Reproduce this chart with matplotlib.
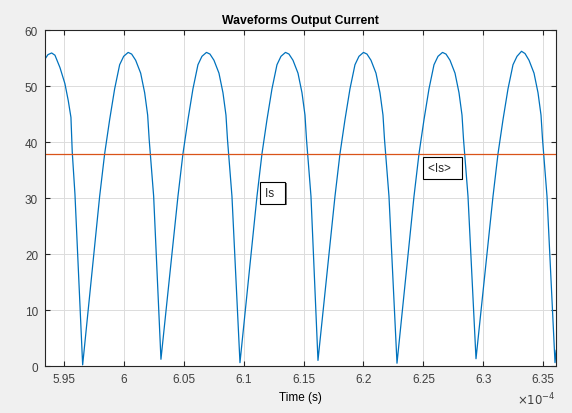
import matplotlib

matplotlib.use("Agg")
import matplotlib.pyplot as plt
import matplotlib.patheffects as pe
from matplotlib.ticker import FixedLocator, FixedFormatter

# time in units of 1e-4 s, current in A
time_e4 = [
    5.93414, 5.93664, 5.93973, 5.94249, 5.94666, 5.95083, 5.95359, 5.95584, 5.95693, 5.95918,
    5.96561, 5.97980, 5.98397, 5.98815, 5.99232, 5.99649, 5.99983, 6.00359, 6.00651, 6.00985,
    6.01402, 6.01736, 6.01987, 6.02112, 6.02487,
    6.03096, 6.04515, 6.04932, 6.05350, 6.05767, 6.06184, 6.06518, 6.06894, 6.07186, 6.07520,
    6.07937, 6.08271, 6.08522, 6.08647, 6.09022,
    6.09691, 6.11110, 6.11527, 6.11945, 6.12362, 6.12779, 6.13113, 6.13489, 6.13781, 6.14115,
    6.14532, 6.14866, 6.15117, 6.15242, 6.15617,
    6.16201, 6.17620, 6.18037, 6.18455, 6.18872, 6.19289, 6.19623, 6.19999, 6.20291, 6.20625,
    6.21042, 6.21376, 6.21627, 6.21752, 6.22127,
    6.22796, 6.24215, 6.24632, 6.25050, 6.25467, 6.25884, 6.26218, 6.26594, 6.26886, 6.27220,
    6.27637, 6.27971, 6.28222, 6.28347, 6.28722,
    6.29390, 6.30809, 6.31226, 6.31644, 6.32061, 6.32478, 6.32812, 6.33188, 6.33480, 6.33814,
    6.34231, 6.34565, 6.34816, 6.34941, 6.35316,
    6.35984, 6.36080,
]
current = [
    54.8, 55.6, 55.9, 55.5, 53.3, 50.4, 47.4, 44.4, 38.2, 30.7,
    0.2, 30.3, 37.9, 44.0, 49.5, 53.8, 55.3, 56.0, 55.7, 54.6,
    52.3, 48.8, 44.8, 40.5, 30.3,
    1.2, 30.3, 37.9, 44.0, 49.5, 53.8, 55.3, 56.0, 55.7, 54.6,
    52.3, 48.8, 44.8, 40.5, 30.3,
    0.6, 30.3, 37.9, 44.0, 49.5, 53.8, 55.3, 56.0, 55.7, 54.6,
    52.3, 48.8, 44.8, 40.5, 30.3,
    1.0, 30.3, 37.9, 44.0, 49.5, 53.8, 55.3, 56.0, 55.7, 54.6,
    52.3, 48.8, 44.8, 40.5, 30.3,
    0.5, 30.3, 37.9, 44.0, 49.5, 53.8, 55.3, 56.0, 55.7, 54.6,
    52.3, 48.8, 44.8, 40.5, 30.3,
    1.3, 30.3, 37.9, 44.0, 49.5, 53.8, 55.3, 56.2, 55.8, 54.6,
    52.3, 48.8, 44.8, 40.5, 30.3,
    0.6, 2.8,
]
mean_current = 37.8

x_ticks_e4 = [5.95, 6.00, 6.05, 6.10, 6.15, 6.20, 6.25, 6.30, 6.35]
x_tick_labels = ["5.95", "6", "6.05", "6.1", "6.15", "6.2", "6.25", "6.3", "6.35"]
y_ticks = [0, 10, 20, 30, 40, 50, 60]

BG = "#f0f0f0"
AX_COLOR = "#262626"
TICK_TEXT = "#404040"

plt.rcParams["font.family"] = ["Liberation Sans", "DejaVu Sans"]

fig = plt.figure(figsize=(5.72, 4.14), dpi=100, facecolor=BG)
ax = fig.add_axes([0.0787, 0.1135, 0.8934, 0.8116])

time_s = [t * 1e-4 for t in time_e4]
ax.plot(time_s, current, color="#0072BD", lw=0.9, clip_on=True)
ax.axhline(mean_current, color="#D95319", lw=0.9)

ax.set_xlim(5.9342e-4, 6.3607e-4)
ax.set_ylim(0, 60)

ax.xaxis.set_major_locator(FixedLocator([t * 1e-4 for t in x_ticks_e4]))
ax.xaxis.set_major_formatter(FixedFormatter(x_tick_labels))
ax.set_yticks(y_ticks)

ax.grid(True, color="#dcdcdc", lw=0.7)
ax.set_axisbelow(True)
ax.tick_params(direction="in", length=3.5, width=0.8, color=AX_COLOR,
               labelsize=8.5, labelcolor=TICK_TEXT, top=True, right=True, pad=5)
for spine in ax.spines.values():
    spine.set_color(AX_COLOR)
    spine.set_linewidth(0.8)

ax.set_title("Waveforms Output Current", fontsize=8.8, fontweight="bold", color="black", pad=5)
ax.set_xlabel("Time (s)", fontsize=8.5, color="black", labelpad=4)
ax.text(1.0, -0.072, r"$\times10^{-4}$", transform=ax.transAxes, ha="right", va="top",
        fontsize=8.5, color=TICK_TEXT)

# MATLAB style text boxes: text sits to the left, extra room on the right
shadow = [pe.withSimplePatchShadow(offset=(1, -1), shadow_rgbFace="#7a7a7a", alpha=1.0)]
for label, tx, ty in [("Is  ", 6.1175e-4, 30.9), ("<Is>  ", 6.2535e-4, 35.4)]:
    t = ax.text(tx, ty, label, ha="left", va="center", fontsize=8.5, color="#262626",
                bbox=dict(boxstyle="square,pad=0.42", fc="white", ec="black", lw=0.8))
    t.get_bbox_patch().set_path_effects(shadow)

fig.savefig("out.png", dpi=100, facecolor=BG)
